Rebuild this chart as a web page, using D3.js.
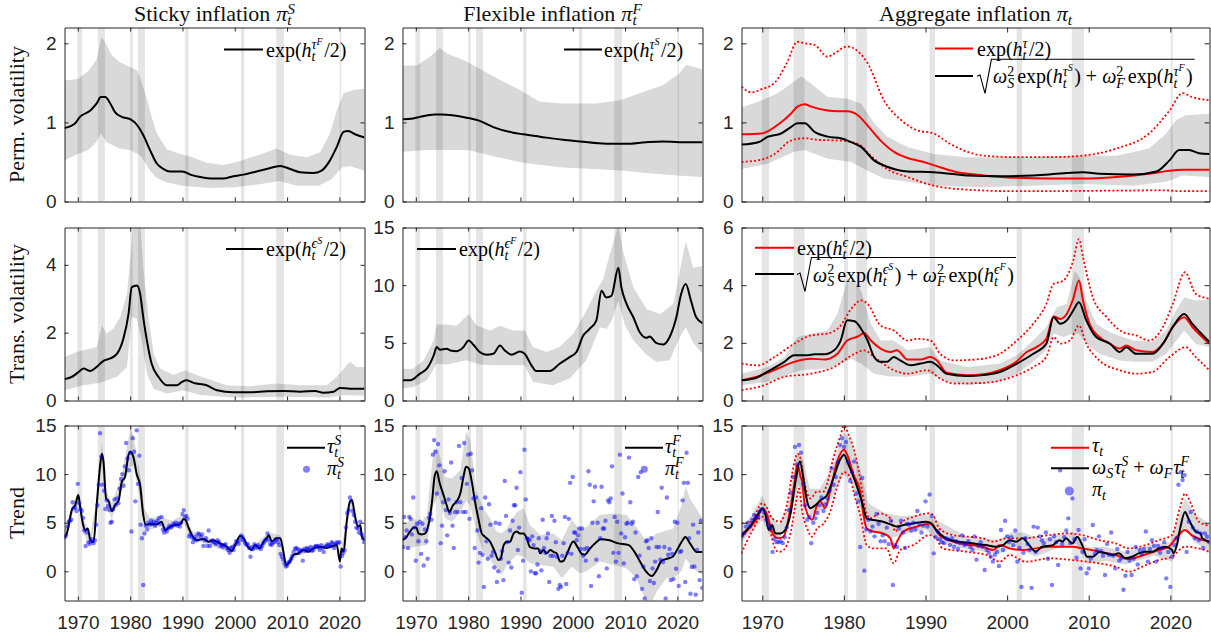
<!DOCTYPE html>
<html>
<head>
<meta charset="utf-8">
<script src="https://cdn.jsdelivr.net/npm/d3@7"></script>
<style>body{margin:0;background:#fff}</style>
</head>
<body>
<script>
"use strict";
let width = 1211;
let height = 636;
let colX = [[64.5, 364.5], [402.5, 702.5], [741.5, 1209.5]];
let rowY = [[27.5, 201.5], [227.5, 400.5], [425.5, 600.5]];
let xDomain = [1967.45, 2024.8];
let yearTicks = [1970, 1980, 1990, 2000, 2010, 2020];
let qStart = 1967.5; // date of first quarterly observation

// NBER recessions
let recStart = [1969.92, 1973.83, 1980.0, 1981.5, 1990.5, 2001.17, 2007.92, 2020.05];
let recEnd   = [1970.83, 1975.17, 1980.5, 1982.83, 1991.17, 2001.83, 2009.42, 2020.3];

// ---------- Row 1: permanent volatility ----------
let r1c1Mean = [[1967.45,0.93],[1969.5,0.99],[1970.4,1.07],[1972.4,1.15],[1973.6,1.24],[1974.4,1.32],[1975.2,1.32],[1976.2,1.24],[1977.1,1.13],[1978.4,1.07],[1980,1.04],[1981.3,0.97],[1982.5,0.84],[1983.8,0.65],[1985.1,0.48],[1986.4,0.41],[1987.6,0.38],[1990,0.38],[1991.5,0.34],[1993.4,0.31],[1995.9,0.29],[1997.8,0.29],[1999.7,0.32],[2001.7,0.34],[2003.6,0.37],[2006.1,0.41],[2008.7,0.45],[2010.6,0.41],[2012.5,0.37],[2015,0.36],[2016.6,0.39],[2018.2,0.52],[2019.5,0.69],[2020.8,0.88],[2021.7,0.89],[2023,0.85],[2024.8,0.81]];
let r1c1Hi = [[1967.45,1.53],[1970,1.55],[1972,1.65],[1973.6,1.8],[1974.5,2.08],[1975.2,2.02],[1976.5,1.85],[1978,1.76],[1980,1.7],[1981.3,1.66],[1982,1.55],[1983.2,1.3],[1984.2,1.05],[1985.1,0.86],[1987,0.66],[1989.6,0.6],[1991.5,0.57],[1994.6,0.49],[1997.8,0.46],[2000.9,0.51],[2004.2,0.58],[2008,0.67],[2010.6,0.59],[2013.8,0.56],[2016.3,0.62],[2018.2,0.86],[2019.5,1.15],[2020.8,1.37],[2022.7,1.41],[2024.8,1.43]];
let r1c1Lo = [[1967.45,0.52],[1970,0.6],[1972,0.65],[1973.5,0.75],[1974.4,0.86],[1975.5,0.75],[1978,0.67],[1980,0.65],[1982,0.58],[1983.5,0.42],[1985,0.3],[1987,0.24],[1990,0.2],[1995,0.17],[2000,0.18],[2005,0.22],[2008.5,0.26],[2012,0.2],[2016,0.2],[2018.5,0.28],[2020.5,0.43],[2022,0.45],[2024.8,0.39]];

let r1c2Mean = [[1967.45,1.04],[1969.5,1.05],[1970.8,1.07],[1973.6,1.1],[1974.9,1.1],[1979.7,1.06],[1982.2,1.02],[1984.8,0.94],[1988.6,0.87],[1990.5,0.85],[1993.7,0.82],[1998.1,0.78],[2001.3,0.76],[2006.4,0.73],[2010.2,0.73],[2014,0.75],[2017.2,0.76],[2020.4,0.75],[2024.8,0.75]];
let r1c2Hi = [[1967.45,1.72],[1970.2,1.72],[1972.7,1.83],[1974.6,1.94],[1975.9,1.87],[1979.1,1.79],[1982.2,1.68],[1985.4,1.56],[1989.9,1.41],[1993.7,1.26],[1998.1,1.24],[2004.5,1.24],[2009,1.28],[2012.8,1.37],[2017.2,1.47],[2020.4,1.62],[2021.7,1.73],[2024.8,1.67]];
let r1c2Lo = [[1967.45,0.63],[1972,0.65],[1980,0.65],[1985,0.57],[1990.5,0.49],[1998,0.43],[2004,0.41],[2010,0.39],[2014,0.36],[2020,0.33],[2024.8,0.31]];

let r1c3Red = [[1967.45,0.85],[1969.9,0.86],[1971.9,0.97],[1973.5,1.11],[1974.3,1.2],[1975.2,1.23],[1976,1.2],[1978,1.15],[1979.2,1.14],[1980.4,1.14],[1981.7,1.09],[1982.9,0.96],[1984.5,0.77],[1986.1,0.63],[1987.8,0.55],[1989.4,0.51],[1991,0.46],[1993.5,0.38],[1997.1,0.33],[2001.2,0.3],[2005.2,0.29],[2009.3,0.29],[2013.4,0.31],[2017.4,0.35],[2019.9,0.39],[2021.5,0.4],[2024.8,0.4]];
let r1c3RedHi = [[1967.45,1.45],[1968.7,1.38],[1969.9,1.42],[1971.5,1.5],[1973,1.75],[1974.3,2.02],[1975.2,2.0],[1976.4,1.98],[1978,1.83],[1978.8,1.87],[1980.4,1.96],[1981.7,1.9],[1982.9,1.75],[1984.9,1.28],[1987,1.03],[1989,0.9],[1991,0.86],[1993,0.73],[1997.1,0.58],[2001.2,0.56],[2005.2,0.56],[2009.3,0.58],[2013.4,0.67],[2017.4,0.86],[2019.9,1.15],[2021.5,1.37],[2022.7,1.32],[2024.8,1.28]];
let r1c3RedLo = [[1967.45,0.5],[1969.9,0.53],[1971.5,0.6],[1973.5,0.77],[1975.2,0.8],[1976.8,0.78],[1979.6,0.77],[1981.7,0.73],[1983.3,0.58],[1985.3,0.41],[1987.8,0.31],[1991,0.2],[1995.1,0.15],[2001.2,0.13],[2019.5,0.14],[2021.5,0.13],[2024.8,0.13]];
let r1c3Blk = [[1967.45,0.72],[1969.5,0.75],[1970.7,0.82],[1972.3,0.86],[1973.5,0.94],[1974.3,0.99],[1975.2,0.99],[1976.4,0.88],[1978,0.82],[1979.6,0.8],[1980.9,0.75],[1982.1,0.69],[1983.7,0.52],[1985.3,0.44],[1987.8,0.38],[1991,0.37],[1995.1,0.33],[1999.1,0.32],[2003.2,0.33],[2007.3,0.36],[2009.3,0.37],[2011.3,0.35],[2015.4,0.34],[2018.3,0.38],[2019.9,0.52],[2021.1,0.65],[2022.3,0.65],[2023.5,0.61],[2024.8,0.6]];
let r1c3Hi = [[1967.45,1.19],[1969.5,1.26],[1971.9,1.37],[1973.5,1.49],[1974.8,1.58],[1976,1.49],[1978,1.32],[1980.4,1.3],[1982.1,1.24],[1983.7,0.99],[1985.3,0.82],[1987.8,0.69],[1991,0.6],[1995.1,0.56],[2001.2,0.56],[2007.3,0.58],[2013.4,0.58],[2017.4,0.67],[2019.5,0.86],[2020.7,1.03],[2021.9,1.09],[2024.8,1.11]];
let r1c3Lo = [[1967.45,0.41],[1970.7,0.48],[1973.9,0.63],[1975.2,0.65],[1978,0.54],[1980.9,0.5],[1982.9,0.39],[1984.9,0.29],[1987.8,0.25],[1991,0.2],[1997,0.18],[2003,0.2],[2009.3,0.22],[2015.4,0.2],[2019.5,0.25],[2021.5,0.33],[2024.8,0.31]];

// ---------- Row 2: transitory volatility ----------
let r2c1Mean = [[1967.45,0.63],[1968.9,0.7],[1970,0.82],[1971.1,0.94],[1972.4,0.87],[1973.6,0.99],[1974.9,1.17],[1976.2,1.24],[1977.5,1.38],[1978.7,1.82],[1979.7,2.56],[1980.3,3.34],[1981.3,3.39],[1981.9,3.15],[1982.5,2.46],[1983.2,1.77],[1984.1,1.09],[1985.4,0.7],[1987,0.45],[1988.9,0.45],[1989.9,0.55],[1990.8,0.6],[1992.1,0.52],[1994.6,0.45],[1996.6,0.3],[1999.7,0.24],[2002.9,0.24],[2006.1,0.27],[2009.3,0.28],[2012.5,0.26],[2015.4,0.28],[2016.9,0.23],[2018.9,0.26],[2020.1,0.37],[2022,0.35],[2024.8,0.35]];
let r2c1Hi = [[1967.45,1.28],[1969.8,1.43],[1973.6,1.58],[1974.6,2.22],[1975.5,1.97],[1976.8,2.12],[1978.1,2.46],[1979.4,3.15],[1980.3,4.62],[1980.6,5.3],[1981.9,5.3],[1982.5,3.93],[1983.5,2.46],[1984.5,1.38],[1985.7,0.94],[1988.3,0.75],[1990.5,0.89],[1992.1,0.79],[1994.6,0.65],[1998.5,0.45],[2002.9,0.42],[2008,0.5],[2012.5,0.45],[2017.6,0.45],[2019.5,0.7],[2022,1.14],[2023.3,0.99],[2024.8,0.99]];
let r2c1Lo = [[1967.45,0.3],[1971.1,0.45],[1974.3,0.52],[1977.5,0.7],[1979.4,0.99],[1980.3,2.46],[1981.3,2.41],[1982.2,1.77],[1983.2,0.79],[1984.5,0.35],[1987,0.21],[1990.2,0.3],[1993.4,0.16],[1999.7,0.09],[2009,0.11],[2018,0.09],[2021,0.16],[2024.8,0.14]];

let r2c2Mean = [[1967.45,1.75],[1968.9,1.75],[1970.8,2.33],[1972.1,2.76],[1973.4,3.9],[1974,4.63],[1974.6,4.4],[1975.9,4.48],[1976.6,4.34],[1977.8,4.28],[1979.1,4.63],[1980.1,5.2],[1981,4.83],[1982.2,4.2],[1983.5,3.97],[1984.8,4.05],[1986.1,4.77],[1987,4.34],[1988.3,3.97],[1989.9,4.25],[1990.8,4.05],[1992.1,3.05],[1993,2.56],[1995.6,2.56],[1997.5,3.19],[1999.4,3.76],[2000.7,4.2],[2002,5.63],[2003.2,6.2],[2004.5,6.93],[2005.5,9.51],[2006.4,8.94],[2007.4,9.08],[2008.7,11.52],[2009.3,9.8],[2010.3,8.36],[2011.6,7.2],[2012.8,5.92],[2014.1,5.43],[2014.7,5.55],[2016,4.97],[2017.3,4.86],[2018.5,5.49],[2019.8,7.21],[2020.7,9.22],[2021.6,10.1],[2022.6,8.65],[2023.6,7.21],[2024.8,6.7]];
let r2c2Hi = [[1967.45,2.76],[1969.5,2.76],[1971.5,3.48],[1973.4,5.2],[1974,6.58],[1975.9,6.58],[1977.8,6.49],[1980.1,7.5],[1981.7,6.49],[1984.2,6.06],[1986.1,6.49],[1988.6,6.06],[1990.8,6.06],[1992.4,4.63],[1995,4.2],[1997.5,4.63],[2000.1,5.78],[2002.6,7.79],[2004.5,9.51],[2005.8,10.52],[2007.1,12.67],[2008.7,15.2],[2009.6,12.96],[2011.6,9.8],[2014.1,7.93],[2016.7,7.5],[2019.2,8.36],[2021.6,13.8],[2023,11.52],[2024.8,11.67]];
let r2c2Lo = [[1967.45,1.03],[1969.5,1.18],[1972.1,1.75],[1974,3.19],[1975.9,3.13],[1979.7,3.48],[1982.2,3.13],[1984.8,3.05],[1990.8,3.05],[1992.4,1.61],[1996.2,1.32],[1999.4,1.9],[2002.6,3.48],[2005.2,6.35],[2006.5,6.2],[2007.5,7.0],[2008.7,8.65],[2010,6.5],[2011.6,5.2],[2014,4.0],[2016,3.33],[2018.5,3.48],[2020.5,5.5],[2021.6,6.35],[2023,5.0],[2024.8,4.05]];

let r2c3Red = [[1967.45,0.7],[1969.9,0.88],[1971.9,1.11],[1973.9,1.34],[1976,1.45],[1977.6,1.42],[1979.2,1.62],[1980.4,2.08],[1981.7,2.22],[1982.5,2.34],[1983.3,2.08],[1984.5,1.8],[1985.7,1.68],[1986.5,1.74],[1987.8,1.42],[1989.4,1.42],[1990.6,1.51],[1991.4,1.39],[1992.6,0.96],[1995.1,0.88],[1997.1,0.91],[1999.1,1.05],[2001.2,1.36],[2002.4,1.68],[2003.6,1.85],[2004.8,2.14],[2005.7,2.91],[2006.5,2.83],[2007.3,3.0],[2008.1,3.53],[2008.8,4.16],[2009.3,3.47],[2010.1,2.66],[2011.3,2.2],[2012.6,1.97],[2013.8,1.8],[2014.6,1.91],[2015.8,1.74],[2017.8,1.68],[2019.1,1.97],[2020.3,2.55],[2021.7,2.89],[2022.7,2.55],[2024.8,1.97]];
let r2c3RedHi = [[1967.45,1.28],[1969.5,1.22],[1971.5,1.51],[1973.9,1.97],[1976,2.26],[1978,2.32],[1979.6,2.6],[1980.9,3.18],[1982.1,3.47],[1982.9,3.35],[1984.5,2.6],[1986.1,2.43],[1987.8,2.08],[1989,2.14],[1990.6,2.08],[1991.8,1.62],[1993.5,1.39],[1997.1,1.45],[1999.1,1.62],[2001.2,2.08],[2003.2,2.66],[2004.8,3.35],[2005.7,4.04],[2006.9,4.16],[2008.1,4.85],[2008.8,5.6],[2009.3,4.97],[2010.5,3.58],[2012.2,2.89],[2014.2,2.37],[2015.8,2.26],[2017.4,2.08],[2019.1,2.55],[2020.3,3.35],[2021.8,4.45],[2023.1,3.7],[2024.8,3.53]];
let r2c3RedLo = [[1967.45,0.36],[1969.9,0.5],[1972.7,0.82],[1976,0.93],[1978.8,1.16],[1981.3,1.62],[1982.5,1.74],[1983.7,1.51],[1985.7,1.11],[1987.8,0.93],[1990.2,1.05],[1991.8,0.76],[1993.5,0.59],[1997.1,0.61],[2001.2,0.88],[2003.2,1.16],[2004.8,1.51],[2005.7,2.2],[2006.5,1.97],[2007.7,2.08],[2008.8,2.6],[2009.7,1.97],[2011.3,1.39],[2013.8,1.05],[2015.8,0.93],[2017.8,0.99],[2019.9,1.51],[2021.9,1.85],[2023.1,1.51],[2024.8,1.05]];
let r2c3Blk = [[1967.45,0.7],[1969,0.76],[1970.7,1.01],[1972.7,1.34],[1973.9,1.57],[1975.6,1.57],[1976.4,1.6],[1977.6,1.6],[1978.8,1.74],[1979.6,2.08],[1980.4,2.78],[1981.3,2.75],[1982.1,2.49],[1982.9,2.08],[1983.7,1.51],[1984.5,1.34],[1985.3,1.34],[1986.1,1.51],[1986.9,1.39],[1988.2,1.22],[1989.4,1.28],[1990.6,1.34],[1991.4,1.22],[1992.6,0.93],[1995.1,0.85],[1997.1,0.88],[1999.1,0.99],[2001.2,1.28],[2003.2,1.62],[2004.8,1.97],[2005.7,2.89],[2006.5,2.66],[2007.3,2.78],[2008.1,3.12],[2008.8,3.41],[2009.7,2.78],[2010.9,2.2],[2012.6,1.97],[2013.8,1.68],[2014.6,1.85],[2015.8,1.62],[2017.8,1.62],[2019.1,1.97],[2020.3,2.55],[2021.7,3.0],[2022.7,2.66],[2024.8,2.03]];
let r2c3Hi = [[1967.45,0.93],[1970.7,1.16],[1972.7,1.51],[1974.3,2.2],[1976,2.32],[1978,2.43],[1979.2,3.0],[1980.4,4.16],[1981.3,4.16],[1982.1,3.81],[1983.3,2.66],[1984.5,2.08],[1986.1,2.08],[1987.8,1.74],[1990.6,1.85],[1991.8,1.39],[1995.1,1.16],[1999.1,1.28],[2001.2,1.57],[2003.2,2.08],[2004.8,2.55],[2006.1,3.24],[2007.3,3.35],[2008.3,4.5],[2008.9,4.27],[2009.7,3.47],[2010.9,2.66],[2012.6,2.37],[2015.4,2.08],[2017.8,2.03],[2019.5,2.43],[2020.7,3.12],[2021.7,3.58],[2023.1,3.47],[2024.8,3.5]];
let r2c3Lo = [[1967.45,0.53],[1970.7,0.65],[1972.7,0.84],[1974.7,1.05],[1978,1.11],[1979.6,1.28],[1980.9,1.45],[1982.1,1.28],[1983.7,0.93],[1985.3,0.84],[1987.8,0.82],[1990.6,0.93],[1992.6,0.65],[1995.1,0.53],[1999.1,0.65],[2001.2,0.93],[2003.2,1.34],[2004.8,1.74],[2005.7,2.32],[2006.9,2.2],[2008.1,2.32],[2008.8,2.32],[2009.7,1.97],[2011.3,1.62],[2013.8,1.39],[2015.8,1.34],[2017.8,1.34],[2019.5,1.62],[2021.7,2.43],[2023.1,1.97],[2024.8,1.85]];

// ---------- Row 3: trends ----------
let r3c1Mean = [[1967.45,3.46],[1967.9,3.9],[1968.9,6.4],[1969.5,6.8],[1970.1,7.84],[1970.4,6.8],[1970.95,4.93],[1971.4,4.2],[1971.9,4.4],[1972.4,3.2],[1973,3.0],[1973.6,6.8],[1974.3,11.1],[1974.6,12.1],[1974.9,11.3],[1975.4,7.5],[1975.9,7.2],[1976.5,6.2],[1977.1,6.8],[1977.8,7.3],[1978.4,9.2],[1979,9.7],[1979.7,12.0],[1980,12.3],[1980.6,11.8],[1981.3,9.9],[1981.9,8.9],[1982.5,5.8],[1983,4.8],[1983.8,4.86],[1985.1,4.83],[1986,5.1],[1986.7,4.25],[1987.6,4.6],[1988.6,4.76],[1989.6,4.86],[1990.2,5.38],[1990.6,5.27],[1991.1,4.6],[1991.8,3.73],[1992.7,3.2],[1994,3.32],[1995,3.05],[1995.9,3.2],[1997.2,2.88],[1998.5,2.53],[1999.4,2.09],[2000.1,2.7],[2001,3.63],[2001.7,3.4],[2002.3,2.7],[2003.2,2.19],[2003.9,2.7],[2004.8,2.36],[2005.5,3.05],[2006.1,3.4],[2006.5,3.7],[2007.1,3.05],[2007.9,3.4],[2008.7,3.4],[2009.3,2.02],[2009.8,0.65],[2010.6,1.06],[2011.2,1.68],[2012.2,1.85],[2013.1,2.19],[2014.1,2.02],[2015,2.36],[2016.3,2.53],[2017.6,2.43],[2018.9,2.64],[2019.5,2.7],[2020.1,1.0],[2020.4,2.36],[2020.8,2.02],[2021.4,5.1],[2022,7.16],[2022.4,7.33],[2023,5.62],[2023.6,4.6],[2024,4.76],[2024.3,3.56],[2024.8,3.2]];
let r3c1Hi = [[1967.45,4.2],[1969,6.9],[1970.1,8.2],[1971,5.5],[1972.4,3.8],[1973.6,7.5],[1974.6,13.2],[1975.4,8.3],[1976.5,7.0],[1978.4,9.9],[1980,14.6],[1980.6,14.0],[1981.9,10.0],[1982.7,6.4],[1983.8,5.5],[1986,5.6],[1988,5.2],[1990.2,5.8],[1991.8,4.2],[1995,3.4],[1999.4,2.5],[2001,3.9],[2003.2,2.5],[2006.5,4.0],[2008.7,3.7],[2009.8,1.0],[2012,2.2],[2016,2.8],[2019.5,3.0],[2020.1,1.6],[2022.2,7.9],[2023.6,5.0],[2024.8,3.6]];
let r3c1Lo = [[1967.45,3.0],[1969,5.9],[1970.1,7.2],[1971,3.9],[1972.4,2.7],[1973.6,6.0],[1974.6,11.0],[1975.4,6.7],[1976.5,5.4],[1978.4,8.3],[1980,10.8],[1980.6,10.8],[1981.9,7.6],[1982.7,4.6],[1983.8,4.3],[1986,4.6],[1988,4.4],[1990.2,5.0],[1991.8,3.3],[1995,2.7],[1999.4,1.8],[2001,3.3],[2003.2,1.9],[2006.5,3.4],[2008.7,3.1],[2009.8,0.3],[2012,1.6],[2016,2.2],[2019.5,2.4],[2020.1,0.5],[2022.2,6.7],[2023.6,4.2],[2024.8,2.8]];

let r3c2Mean = [[1967.45,3.2],[1968.3,3.6],[1968.9,4.1],[1969.6,4.5],[1970.1,4.5],[1970.5,3.9],[1971.1,3.8],[1971.8,3.9],[1972.4,4.76],[1973.1,7.2],[1973.6,9.8],[1974,10.3],[1974.5,9.2],[1975.3,7.84],[1975.9,6.8],[1976.4,6.1],[1977.1,6.8],[1977.8,7.2],[1978.5,8.0],[1979.1,9.7],[1979.6,10.75],[1980.1,10.6],[1980.7,9.2],[1981.3,7.2],[1982,5.3],[1982.6,3.9],[1983.2,3.56],[1984.2,3.05],[1985.1,2.0],[1985.8,1.16],[1986.2,1.3],[1986.8,2.7],[1987.4,3.05],[1988,3.05],[1988.7,3.9],[1989.3,4.1],[1989.9,3.9],[1990.6,3.9],[1991.2,3.4],[1991.8,2.5],[1992.8,2.36],[1993.4,2.36],[1993.8,1.85],[1994.4,2.2],[1995,1.85],[1995.7,2.2],[1996.3,2.0],[1996.9,1.85],[1997.6,1.0],[1998.2,1.06],[1998.8,1.68],[2000.1,3.08],[2000.8,2.6],[2001.7,1.8],[2002.3,1.7],[2003.2,2.3],[2004.5,3.0],[2005.3,3.29],[2007,3.2],[2008.5,2.9],[2010.7,2.7],[2011.8,2.0],[2012.9,0.96],[2014,0.0],[2015.1,-0.48],[2016,0.1],[2017,1.1],[2018,1.3],[2019.1,1.5],[2019.9,2.16],[2021,3.2],[2021.5,3.52],[2022.5,2.8],[2023.7,1.98],[2024.8,2.0]];
let r3c2Hi = [[1967.45,4.76],[1969.6,5.45],[1970.8,4.9],[1972.1,5.8],[1973.4,12.6],[1974.3,12.5],[1975.6,9.7],[1976.9,9.55],[1978.5,10.4],[1979.6,14.4],[1980.4,13.5],[1981.6,8.2],[1982.9,6.5],[1984.2,5.45],[1985.4,4.1],[1986.4,3.9],[1987.4,4.4],[1989.3,6.1],[1990.6,6.5],[1991.8,4.76],[1993.8,3.73],[1996.3,3.9],[1997.9,3.2],[1999.8,5.27],[2001.4,4.25],[2002.7,4.6],[2005.2,5.8],[2007.8,5.95],[2010.3,5.8],[2012.8,4.1],[2014.1,3.05],[2016,3.9],[2019.2,4.4],[2020.8,6.8],[2021.6,8.7],[2022.4,7.5],[2024.8,5.45]];
let r3c2Lo = [[1967.45,2.2],[1969.6,2.53],[1972.1,2.7],[1973.4,6.8],[1974.3,7.84],[1975.6,5.45],[1976.9,5.1],[1978.5,6.1],[1979.6,7.2],[1980.4,6.8],[1981.6,4.1],[1982.9,2.0],[1984.2,1.16],[1985.4,0.3],[1986.4,-0.38],[1987.4,0.65],[1989.3,1.68],[1990.6,1.5],[1991.8,0.82],[1993.8,0.65],[1996.3,0.48],[1997.9,-0.72],[1999.8,0.48],[2001.4,-0.2],[2002.7,0.0],[2005.2,1.0],[2007.8,0.65],[2010.3,0.3],[2012.2,-0.72],[2014.1,-3.2],[2015.1,-3.2],[2016,-2.1],[2017.9,-0.72],[2019.2,-0.72],[2020.8,0.0],[2021.6,1.34],[2022.9,0.3],[2024.8,-0.38]];

let r3c3Red = [[1967.45,3.56],[1968.6,4.6],[1969.4,5.45],[1970,6.5],[1970.6,5.8],[1971,4.6],[1971.4,3.7],[1972,3.4],[1972.6,3.56],[1973.3,5.8],[1973.9,8.9],[1974.3,11.0],[1974.7,9.7],[1974.9,9.2],[1975.2,6.8],[1976.1,5.3],[1976.7,6.8],[1977.1,7.2],[1977.7,6.5],[1978.3,8.2],[1979.1,11.1],[1980,12.5],[1980.4,12.0],[1981.2,9.9],[1982,8.2],[1982.4,5.8],[1982.8,4.4],[1983.6,4.1],[1984.8,3.9],[1985.7,3.4],[1986.1,2.36],[1986.5,3.05],[1987.3,4.1],[1988.9,4.6],[1990.5,4.9],[1990.9,4.76],[1991.7,3.73],[1993.4,3.05],[1995,2.77],[1997,2.53],[1998.3,2.19],[1999.1,2.7],[2000.3,2.36],[2001.9,2.19],[2005.2,2.53],[2008,2.53],[2009.2,2.36],[2011.3,2.02],[2013.3,1.68],[2014.9,1.27],[2017,1.75],[2018.6,2.19],[2019.8,2.53],[2021,3.73],[2021.8,4.25],[2022.6,3.73],[2024.8,3.05]];
let r3c3RedHi = [[1967.45,4.9],[1968.6,5.1],[1970,7.0],[1970.6,6.5],[1971.2,5.45],[1972.2,5.1],[1973,6.8],[1973.9,11.1],[1974.3,12.1],[1974.7,11.6],[1975.1,9.4],[1975.9,7.5],[1976.7,8.2],[1977.5,8.2],[1977.9,8.9],[1978.7,11.6],[1979.6,14.0],[1980,15.0],[1980.6,14.0],[1981.4,12.0],[1982.2,8.5],[1982.6,6.5],[1983.2,5.45],[1984.4,5.96],[1985.7,5.45],[1986.3,4.1],[1986.9,4.9],[1988.5,5.6],[1990.5,5.96],[1990.9,5.8],[1991.7,4.4],[1993.4,3.73],[1997,3.4],[1998.3,3.05],[1999.9,3.4],[2001.9,3.4],[2005.2,3.73],[2007.2,3.9],[2009.2,3.73],[2011.3,3.2],[2013.3,2.88],[2014.9,2.36],[2017,2.7],[2018.6,3.2],[2020.2,3.73],[2021.2,6.6],[2021.8,8.0],[2022.6,6.8],[2023.5,5.1],[2024.8,4.7]];
let r3c3RedLo = [[1967.45,1.85],[1968.6,3.9],[1970,5.6],[1970.8,4.76],[1971.4,2.7],[1972,2.0],[1972.6,2.19],[1973.5,4.1],[1974.1,7.0],[1974.5,8.5],[1974.9,6.1],[1975.5,4.4],[1976.1,3.56],[1976.7,4.4],[1977.5,4.9],[1978.3,6.1],[1979.1,8.5],[1980,10.2],[1980.6,9.9],[1981.4,7.5],[1982,5.8],[1982.8,2.7],[1983.6,2.36],[1985.2,2.36],[1986.1,0.82],[1986.9,2.19],[1988.5,2.7],[1990.5,3.73],[1991.3,3.4],[1992.1,2.36],[1995,2.02],[1997.5,1.68],[1999.1,0.99],[2000.3,1.68],[2002.3,0.99],[2005.2,1.34],[2008,1.16],[2011.3,0.82],[2013.3,0.48],[2014.9,-0.03],[2017,0.65],[2018.6,1.16],[2020.2,1.5],[2021.8,2.53],[2023.5,2.36],[2024.8,2.0]];
let r3c3Blk = [[1967.45,3.73],[1968.6,4.76],[1969.4,5.8],[1970,6.47],[1970.4,5.8],[1970.8,4.25],[1971.2,4.76],[1971.6,3.9],[1972.2,3.9],[1972.8,4.25],[1973.5,6.1],[1974.1,9.4],[1974.6,11.3],[1975.1,9.2],[1975.5,7.16],[1975.9,6.5],[1976.5,6.8],[1977.1,7.3],[1977.9,7.8],[1978.7,9.55],[1979.6,11.6],[1980,12.0],[1980.6,10.9],[1981.4,9.2],[1982.2,7.2],[1982.8,5.45],[1983.6,5.27],[1984.8,5.1],[1985.9,4.76],[1986.5,4.6],[1987.3,4.76],[1988.5,4.93],[1990.1,5.1],[1990.7,4.93],[1991.3,4.25],[1992.5,3.4],[1994.1,3.05],[1995.7,2.88],[1997.4,2.7],[1998.6,2.53],[1999.5,2.7],[2000.3,3.2],[2001.1,3.05],[2001.9,3.4],[2002.7,2.7],[2003.5,2.02],[2004.3,2.53],[2005.6,2.7],[2006.4,3.2],[2006.8,3.05],[2007.2,3.4],[2008,2.88],[2008.6,3.56],[2009.2,2.7],[2009.8,1.5],[2010.5,1.5],[2011.3,2.0],[2012.1,1.85],[2012.9,1.68],[2013.7,1.85],[2014.5,1.34],[2015.3,1.5],[2016.1,1.85],[2016.9,2.02],[2017.8,2.02],[2018.6,2.36],[2019.4,2.53],[2020.2,2.19],[2020.4,1.85],[2020.8,2.7],[2021.2,4.4],[2021.8,6.1],[2022.2,5.45],[2023.1,4.1],[2023.7,3.9],[2023.9,3.4],[2024.8,3.05]];
let r3c3Hi = [[1967.45,4.5],[1968.5,5.5],[1970,7.8],[1971,5.8],[1972,4.8],[1973,6.5],[1974.3,12.0],[1975,11.5],[1975.8,8.5],[1977,8.5],[1978.5,10.5],[1980,14.3],[1980.8,13.5],[1982,10.5],[1983,7.0],[1985,6.0],[1987,5.7],[1990,5.8],[1991.5,5.2],[1995,3.6],[1999,3.2],[2000.5,4.0],[2002,4.0],[2004,3.3],[2008,4.1],[2009.8,2.5],[2012,2.5],[2014.5,2.0],[2018,2.8],[2020,3.0],[2021.8,7.5],[2023,6.0],[2024.8,4.8]];
let r3c3Lo = [[1967.45,3.0],[1969,4.3],[1970,5.3],[1971,3.5],[1972,3.2],[1973,4.5],[1974.4,9.0],[1975.2,7.5],[1976,5.5],[1978,6.7],[1980,10.0],[1981,9.0],[1982.5,5.5],[1983.5,4.0],[1986,3.5],[1990,4.3],[1992,2.8],[1995,2.3],[1999,1.8],[2001,2.5],[2003.5,1.5],[2006.5,2.5],[2008.5,2.8],[2009.8,0.7],[2012,1.1],[2014.5,0.7],[2018,1.6],[2020.2,1.0],[2021.8,4.5],[2023,3.0],[2024.8,2.0]];

// quarterly observations, first value at qStart
let piS = [3.5,3.7,4.6,5.1,5.2,5.3,7.1,6.5,6.6,6.2,
  9.0,7.0,6.4,6.2, 5.5,4.2,2.6,4.0, 3.0,2.8,3.1,3.3, 2.9,3.2,4.8,6.8, 8.9,14.2,11.8,8.9,
  8.3,6.4,7.3,6.7, 6.3,5.0,5.1,6.4, 7.4,6.8,7.5,7.0, 8.5,9.5,10.0,8.8, 10.8,13.2,11.6,10.4,
  12.2,4.1,13.7,12.3, 7.2,14.5,9.0,11.9, 4.8,3.4,-1.4,3.9, 4.7,4.3,5.0,4.8, 5.2,4.9,5.1,4.7,
  5.0,5.2,5.5,4.9, 5.6,4.3,4.0,4.3, 4.1,4.4,4.7,4.5, 4.6,4.9,4.8,5.0, 4.7,4.9,4.6,5.0,
  5.9,6.3,5.6,5.7, 5.4,3.6,3.8,3.5, 3.0,3.3,3.6,3.2, 3.9,3.8,3.5,3.8, 2.6,3.2,3.4,2.6,
  4.2,2.6,3.1,3.2, 3.0,2.9,2.8,3.2, 3.0,2.6,2.7,2.5, 2.7,2.8,2.4,2.2, 1.9,2.4,2.5,2.2,
  2.7,3.1,3.0,2.8, 3.2,3.7,3.5,3.2, 2.9,2.7,2.8,2.4, 1.5,2.5,2.3,2.8, 2.6,2.4,2.7,2.5,
  2.3,2.6,2.9,3.1, 3.3,3.9,3.2,2.8, 2.7,2.9,3.0,3.2, 3.3,3.0,2.7,1.8, 1.5,1.2,0.8,0.5,
  0.6,0.9,1.0,1.3, 1.6,2.0,2.3,2.4, 2.3,1.9,2.2,2.1, 1.1,2.3,2.1,2.4, 2.3,2.2,2.5,2.1,
  2.2,2.5,2.6,2.6, 2.5,2.2,2.7,2.4, 2.0,2.5,2.6,2.8, 2.7,2.6,3.0,2.9, 2.4,2.8,3.0,2.9,
  3.0,0.5,1.6,1.9, 2.2,4.5,6.0,6.3, 7.6,7.2,6.2,5.8, 5.1,4.5,4.4,4.0, 5.1,3.8,3.4,3.0];
let piF = [2.5,5.6,3.5,4.2,2.4,5.6,5.4,3.8,7.6,4.5,
  1.1,4.9,3.1,5.1, 1.8,4.9,0.6,4.3, 3.1,1.3,5.5,5.9, 5.3,12.0,13.5,12.3, 8.0,13.1,10.9,2.9,
  4.7,7.1,10.3,6.3, 3.7,7.4,6.0,11.2, 4.7,2.4,6.1,7.1, 6.1,12.9,7.1,9.6, 6.1,13.2,6.1,9.0,
  12.0,5.4,12.1,10.4, 7.5,2.4,7.6,4.2, 0.9,1.9,6.5,1.7, -1.6,7.6,3.1,1.3, 6.9,4.8,1.6,2.0,
  0.4,5.0,-1.1,0.0, 4.9,1.3,2.1,-0.9, 9.3,5.7,3.0,0.9, 4.2,0.4,5.2,6.8, 6.8,8.6,2.2,4.5,
  10.2,-2.2,1.1,12.5, 7.4,3.4,3.3,3.2, 0.0,3.6,2.7,-0.2, -0.2,0.7,3.4,2.1, 0.1,5.3,2.4,1.9,
  3.4,3.9,-1.1,1.6, 5.7,1.6,5.2,3.0, 1.5,-1.8,-1.4,-1.6, 1.6,2.9,5.6,-1.3, 1.9,5.4,9.1,1.8,
  9.7,4.0,4.0,3.2, 3.7,4.4,2.3,4.4, 1.6,2.3,1.1,2.4, 10.3,8.9,-1.5,5.0, 7.2,8.7,1.2,5.0,
  -0.5,3.4,8.7,4.4, 4.4,5.2,0.3,7.3, 7.1,7.5,10.8,1.9, 5.6,1.0,5.1,1.9, 12.0,3.9,8.0,0.8,
  3.5,4.9,5.0,11.7, 7.1,4.9,5.1,-0.8, 4.0,-0.5,9.7,1.6, 10.2,-1.8,0.5,-2.8, 3.1,3.2,2.4,-1.0,
  3.4,0.3,-1.2,1.0, 2.5,6.1,2.5,1.2, 8.6,0.96,2.5,-2.8, 7.6,1.7,2.3,-0.9, 1.8,-0.8,5.1,0.27,
  5.0,-1.5,2.0,2.1, 7.3,9.1,-1.1,12.2, 9.1,3.4,-2.3,0.44, 4.8,0.5,-2.4,2.2, 4.0,-0.9,5.2,-1.7];
let piAgg = [3.6,3.9,4.6,5.0,4.6,5.3,5.8,5.5,5.6,6.2,
  6.4,6.0,5.3,4.8, 4.4,2.0,3.3,3.0, 3.0,3.1,2.9,3.5, 4.5,6.3,8.1,9.7, 12.8,11.0,13.0,12.2,
  9.0,6.8,5.3,5.6, 2.9,5.0,5.45,6.0, 6.8,7.6,6.2,6.9, 7.5,8.3,10.6,8.9, 9.7,11.2,13.0,13.7,
  12.8,13.3,11.2,9.3, 10.2,11.3,8.0,7.2, 2.5,9.6,0.07,4.3, 5.3,4.1,4.6,3.6, 5.9,4.9,3.1,3.7,
  3.1,4.5,2.8,5.2, -1.4,2.7,2.5,4.4, 5.2,4.0,2.4,4.9, 4.8,4.2,5.0,4.3, 6.2,4.9,4.0,4.7,
  7.2,4.6,7.9,5.7, 1.85,3.5,4.1,3.3, 3.0,2.9,3.4,3.3, 2.7,3.4,2.5,3.1, 2.3,2.9,3.7,2.7,
  2.8,3.1,2.5,2.2, 3.6,1.2,2.6,3.0, 2.5,0.14,2.2,1.9, 1.5,1.0,1.7,2.0, 0.55,4.25,2.2,5.2,
  3.6,3.0,3.5,2.7, 4.2,1.0,2.4,-1.6, 1.9,3.4,2.8,2.2, -1.7,4.6,2.0,4.5, 3.6,3.2,2.9,4.0,
  1.3,3.3,-1.4,3.6, 3.0,0.65,10.4,2.8, 3.5,4.2,5.45,2.9, 7.5,3.3,1.4,4.25, 0.3,2.0,3.3,-0.2,
  0.3,1.3,4.76,1.8, 2.2,3.6,2.1,1.6, -0.38,2.8,1.7,4.0, 1.6,0.3,2.3,1.1, 1.34,-1.9,-0.45,2.0,
  1.1,-0.38,1.3,2.5, 0.7,2.2,1.8,2.3, 4.1,1.0,2.3,3.2, 2.6,1.0,2.6,1.9, 2.4,3.0,-0.72,2.0,
  -1.6,1.5,2.7,3.4, 8.9,10.2,9.4,9.9, 2.0,5.1,6.1,4.5, 3.4,4.1,3.2,3.9, 2.4,3.9,3.56,3.0];

let axisColor = "#262626";
let serif = "'Liberation Serif', 'Times New Roman', serif";

let svg = d3.select("body").append("svg")
    .attr("width", width)
    .attr("height", height)
    .style("font-family", "'Liberation Sans', Arial, sans-serif");

function drawPanel(row, col, yDomain, yTicks, bands, lines, dots) {
    let xScale = d3.scaleLinear().domain(xDomain).range(colX[col]);
    let yScale = d3.scaleLinear().domain(yDomain).range([rowY[row][1], rowY[row][0]]);
    let x0 = colX[col][0], x1 = colX[col][1], y0 = rowY[row][0], y1 = rowY[row][1];

    let clipId = "clip" + row + col;
    svg.append("clipPath").attr("id", clipId).append("rect")
        .attr("x", x0).attr("y", y0).attr("width", x1 - x0).attr("height", y1 - y0);
    let g = svg.append("g").attr("clip-path", "url(#" + clipId + ")");

    let straight = d3.line().x(d => xScale(d[0])).y(d => yScale(d[1]));
    let smooth = d3.line().x(d => xScale(d[0])).y(d => yScale(d[1])).curve(d3.curveMonotoneX);

    // credible bands
    bands.forEach(function(b) {
        let pts = b.hi.concat(b.lo.slice().reverse());
        g.append("path").attr("d", straight(pts) + "Z").attr("fill", "#d9d9d9");
    });

    // recession shading
    g.selectAll(".rec").data(d3.range(recStart.length)).enter().append("rect")
        .attr("x", i => xScale(recStart[i]))
        .attr("width", i => xScale(recEnd[i]) - xScale(recStart[i]))
        .attr("y", y0).attr("height", y1 - y0)
        .attr("fill", "#000").attr("fill-opacity", 0.1);

    lines.forEach(function(l) {
        g.append("path").attr("d", smooth(l.data))
            .attr("fill", "none")
            .attr("stroke", l.color)
            .attr("stroke-width", l.w || 2)
            .attr("stroke-dasharray", l.dash || null);
    });

    if (dots) {
        g.selectAll(".dot").data(dots).enter().append("circle")
            .attr("cx", (d, i) => xScale(qStart + 0.25 * i))
            .attr("cy", d => yScale(d))
            .attr("r", 2.2)
            .attr("fill", "blue")
            .attr("fill-opacity", 0.5);
    }

    // axes box with inward ticks
    let tl = col == 2 ? 5 : 4;
    let bottom = svg.append("g").attr("transform", "translate(0," + y1 + ")")
        .call(d3.axisBottom(xScale).tickValues(yearTicks).tickSizeInner(-tl).tickSizeOuter(0).tickPadding(15)
            .tickFormat(row == 2 ? d3.format("d") : ""));
    let top = svg.append("g").attr("transform", "translate(0," + y0 + ")")
        .call(d3.axisTop(xScale).tickValues(yearTicks).tickSizeInner(-tl).tickSizeOuter(0).tickFormat(""));
    let left = svg.append("g").attr("transform", "translate(" + x0 + ",0)")
        .call(d3.axisLeft(yScale).tickValues(yTicks).tickSizeInner(-tl).tickSizeOuter(0).tickPadding(8)
            .tickFormat(d3.format("~g")));
    let right = svg.append("g").attr("transform", "translate(" + x1 + ",0)")
        .call(d3.axisRight(yScale).tickValues(yTicks).tickSizeInner(-tl).tickSizeOuter(0).tickFormat(""));
    [bottom, top, left, right].forEach(function(a) {
        a.selectAll("path, line").attr("stroke", axisColor).attr("stroke-width", 1);
        a.selectAll("text").attr("fill", axisColor).attr("font-size", 19)
            .attr("font-family", "'Liberation Sans', Arial, sans-serif");
    });
}

// small typesetter for math labels, one <text> with positioned tspans.
// level 0 = base, 1 = superscript, -1 = subscript, 2 = superscript of superscript
function mathText(g, x, y, parts, fs, supShift) {
    let txt = g.append("text");
    let cur = x, last = x;
    let up = supShift || 0.38;
    parts.forEach(function(p) {
        let lv = p.lv || 0;
        let size = lv == 0 ? fs : (lv == 2 ? fs * 0.5 : fs * 0.7);
        let dy = lv == 1 ? -up * fs : lv == -1 ? 0.22 * fs : lv == 2 ? -0.6 * fs : 0;
        let px = p.stack ? last : cur + (p.gap || 0);
        let t = txt.append("tspan").attr("x", px).attr("y", y + dy)
            .attr("font-size", size)
            .attr("font-style", p.it ? "italic" : "normal")
            .text(p.t);
        let w = t.node().getComputedTextLength();
        if (!p.stack) last = px;
        cur = p.stack ? Math.max(cur, px + w) : px + w;
    });
    return cur - x;
}

function P(t, o) { return Object.assign({t: t}, o || {}); }
let it = true;

function expH(greek, sup2) {
    let arr = [P("exp("), P("h", {it}), P("t", {it, lv: -1}), P(greek, {it, lv: 1, stack: 1})];
    if (sup2) arr.push(P(sup2, {it, lv: 2}));
    arr.push(P("/2)", {gap: 1.5}));
    return arr;
}
function sqrtBody(greek) {
    return [P("ω", {it}), P("S", {it, lv: -1}), P("2", {lv: 1, stack: 1}),
        P("exp(", {gap: 3}), P("h", {it}), P("t", {it, lv: -1}), P(greek, {it, lv: 1, stack: 1}), P("S", {it, lv: 2}), P(")", {gap: 1.5}),
        P("+", {gap: 5}),
        P("ω", {it, gap: 5}), P("F", {it, lv: -1}), P("2", {lv: 1, stack: 1}),
        P("exp(", {gap: 3}), P("h", {it}), P("t", {it, lv: -1}), P(greek, {it, lv: 1, stack: 1}), P("F", {it, lv: 2}), P(")", {gap: 1.5})];
}

function legendLine(xa, xb, y, color) {
    svg.append("line").attr("x1", xa).attr("x2", xb).attr("y1", y).attr("y2", y)
        .attr("stroke", color).attr("stroke-width", 2);
}
function legendText(x, y, parts, fs) {
    let g = svg.append("g").attr("font-family", serif).attr("fill", "#000");
    return mathText(g, x, y, parts, fs);
}
function legendSqrt(x0, yb, parts, fs) {
    let g = svg.append("g").attr("font-family", serif).attr("fill", "#000");
    let w = mathText(g, x0 + 0.8 * fs, yb, parts, fs);
    let topY = yb - 1.2 * fs;
    let xEnd = x0 + 0.8 * fs + w + 2;
    svg.append("path")
        .attr("d", "M" + x0 + "," + (yb - 0.35 * fs) + "L" + (x0 + 0.15 * fs) + "," + (yb - 0.42 * fs) +
            "L" + (x0 + 0.4 * fs) + "," + (yb + 0.5 * fs) + "L" + (x0 + 0.72 * fs) + "," + topY + "L" + xEnd + "," + topY)
        .attr("fill", "none").attr("stroke", "#000").attr("stroke-width", 1.1);
}
function legendDot(x, y, r) {
    svg.append("circle").attr("cx", x).attr("cy", y).attr("r", r)
        .attr("fill", "blue").attr("fill-opacity", 0.5);
}

let dotted = "2,2.2";

// Row 1
drawPanel(0, 0, [0, 2.2], [0, 1, 2], [{hi: r1c1Hi, lo: r1c1Lo}], [{data: r1c1Mean, color: "#000"}]);
drawPanel(0, 1, [0, 2.2], [0, 1, 2], [{hi: r1c2Hi, lo: r1c2Lo}], [{data: r1c2Mean, color: "#000"}]);
drawPanel(0, 2, [0, 2.2], [0, 1, 2], [{hi: r1c3Hi, lo: r1c3Lo}], [
    {data: r1c3RedHi, color: "red", w: 1.8, dash: dotted},
    {data: r1c3RedLo, color: "red", w: 1.8, dash: dotted},
    {data: r1c3Red, color: "red", w: 2},
    {data: r1c3Blk, color: "#000", w: 2}]);

// Row 2
drawPanel(1, 0, [0, 5.1], [0, 2, 4], [{hi: r2c1Hi, lo: r2c1Lo}], [{data: r2c1Mean, color: "#000"}]);
drawPanel(1, 1, [0, 15], [0, 5, 10, 15], [{hi: r2c2Hi, lo: r2c2Lo}], [{data: r2c2Mean, color: "#000"}]);
drawPanel(1, 2, [0, 6], [0, 2, 4, 6], [{hi: r2c3Hi, lo: r2c3Lo}], [
    {data: r2c3RedHi, color: "red", w: 1.8, dash: dotted},
    {data: r2c3RedLo, color: "red", w: 1.8, dash: dotted},
    {data: r2c3Red, color: "red", w: 2},
    {data: r2c3Blk, color: "#000", w: 2}]);

// Row 3
drawPanel(2, 0, [-3, 15], [0, 5, 10, 15], [{hi: r3c1Hi, lo: r3c1Lo}], [{data: r3c1Mean, color: "#000"}], piS);
drawPanel(2, 1, [-3, 15], [0, 5, 10, 15], [{hi: r3c2Hi, lo: r3c2Lo}], [{data: r3c2Mean, color: "#000"}], piF);
drawPanel(2, 2, [-3, 15], [0, 5, 10, 15], [{hi: r3c3Hi, lo: r3c3Lo}], [
    {data: r3c3RedHi, color: "red", w: 1.8, dash: dotted},
    {data: r3c3RedLo, color: "red", w: 1.8, dash: dotted},
    {data: r3c3Red, color: "red", w: 2},
    {data: r3c3Blk, color: "#000", w: 2}], piAgg);

// titles
let titles = [
    [P("Sticky inflation"), P("π", {it, gap: 6}), P("t", {it, lv: -1}), P("S", {it, lv: 1, stack: 1})],
    [P("Flexible inflation"), P("π", {it, gap: 6}), P("t", {it, lv: -1}), P("F", {it, lv: 1, stack: 1})],
    [P("Aggregate inflation"), P("π", {it, gap: 6}), P("t", {it, lv: -1})]
];
titles.forEach(function(parts, c) {
    let g = svg.append("g").attr("font-family", serif).attr("fill", "#111");
    let w = mathText(g, 0, 20.5, parts, 22, 0.3);
    g.attr("transform", "translate(" + ((colX[c][0] + colX[c][1]) / 2 - w / 2) + ",0)");
});

// y labels
let yLabels = ["Perm. volatility", "Trans. volatility", "Trend"];
yLabels.forEach(function(lab, r) {
    let cy = (rowY[r][0] + rowY[r][1]) / 2;
    svg.append("text")
        .attr("transform", "translate(24," + cy + ") rotate(-90)")
        .attr("text-anchor", "middle")
        .attr("font-family", serif)
        .attr("font-size", 22)
        .attr("fill", "#111")
        .text(lab);
});

// legends
let lfs = 20;
legendLine(224, 263, 49.5, "#000");
legendText(266, 56.5, expH("τ", "F"), lfs);
legendLine(564, 602, 49.5, "#000");
legendText(604, 56.5, expH("τ", "S"), lfs);
legendLine(935, 973, 48.5, "red");
legendText(977, 55.5, expH("τ"), lfs);
legendLine(935, 973, 76, "#000");
legendSqrt(977, 83.3, sqrtBody("τ"), lfs);

legendLine(226, 263, 249, "#000");
legendText(266, 256, expH("ϵ", "S"), lfs);
legendLine(417, 456, 249, "#000");
legendText(459, 256, expH("ϵ", "F"), lfs);
legendLine(755, 794, 247.7, "red");
legendText(797, 254.5, expH("ϵ"), lfs);
legendLine(755, 794, 274, "#000");
legendSqrt(797, 281.5, sqrtBody("ϵ"), lfs);

legendLine(287, 325, 447.7, "#000");
legendText(327, 453, [P("τ", {it}), P("t", {it, lv: -1}), P("S", {it, lv: 1, stack: 1})], 20);
legendDot(306.5, 469.3, 3.5);
legendText(327, 475, [P("π", {it}), P("t", {it, lv: -1}), P("S", {it, lv: 1, stack: 1})], 20);

legendLine(625, 663, 447.7, "#000");
legendText(665, 453, [P("τ", {it}), P("t", {it, lv: -1}), P("F", {it, lv: 1, stack: 1})], 20);
legendDot(644.3, 469.3, 3.5);
legendText(665, 475, [P("π", {it}), P("t", {it, lv: -1}), P("F", {it, lv: 1, stack: 1})], 20);

legendLine(1051, 1089, 447.7, "red");
legendText(1092, 452, [P("τ", {it}), P("t", {it, lv: -1})], 20);
legendLine(1051, 1089, 468.3, "#000");
legendText(1092, 474, [P("ω", {it}), P("S", {it, lv: -1}), P("τ", {it, gap: 1}), P("t", {it, lv: -1}), P("S", {it, lv: 1, stack: 1}),
    P("+", {gap: 5}), P("ω", {it, gap: 5}), P("F", {it, lv: -1}), P("τ", {it, gap: 1}), P("t", {it, lv: -1}), P("F", {it, lv: 1, stack: 1})], 20);
legendDot(1069.3, 491, 4.5);
legendText(1092, 496, [P("π", {it}), P("t", {it, lv: -1})], 20);
</script>
</body>
</html>
